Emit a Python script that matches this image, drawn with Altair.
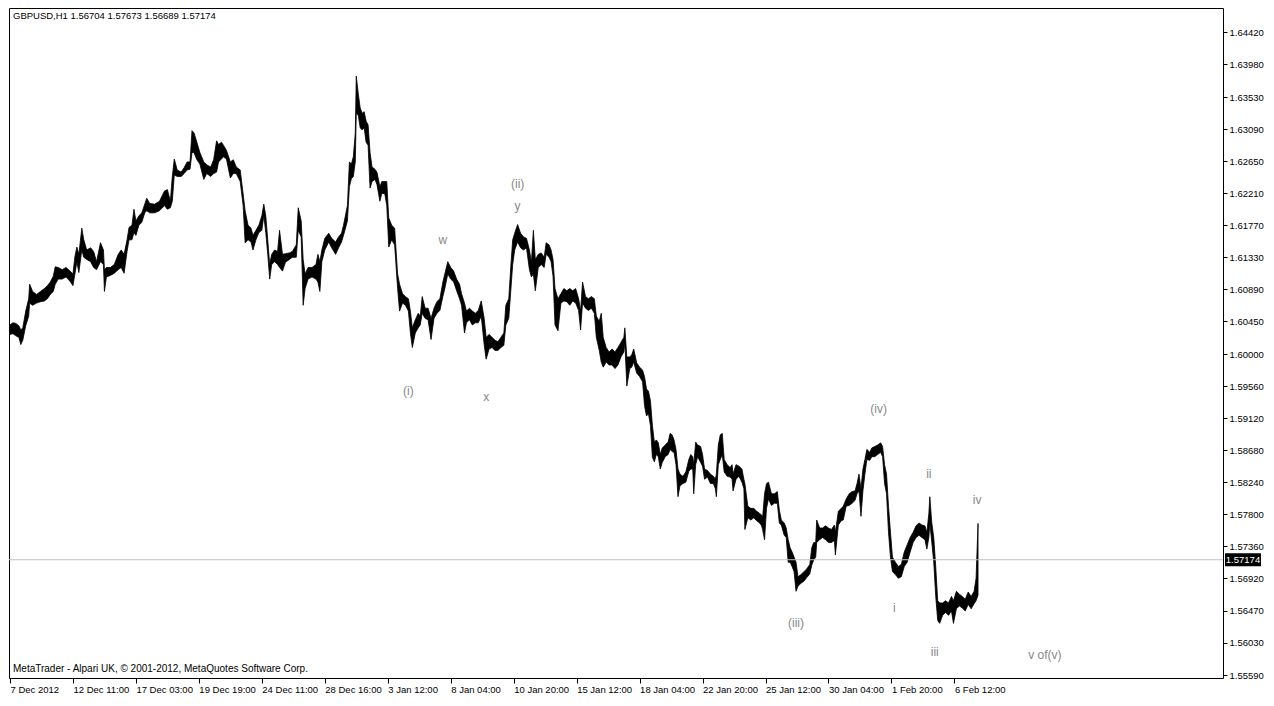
import altair as alt
import pandas as pd

# ---- hourly bars (bar number, high, low) ----
bar_idx = [
    0, 3, 6, 9, 11, 13, 16, 19, 20, 23,
    27, 31, 35, 38, 41, 44, 46, 49, 53, 57,
    61, 64, 66, 68, 70, 73, 75, 78, 82, 85,
    88, 92, 95, 96, 98, 102, 106, 110, 113, 116,
    119, 121, 124, 126, 128, 131, 134, 137, 139, 142,
    147, 152, 157, 160, 163, 165, 167, 170, 174, 177,
    180, 183, 185, 187, 190, 193, 197, 200, 204, 207,
    210, 212, 215, 217, 220, 224, 227, 230, 234, 237,
    239, 242, 245, 247, 250, 253, 256, 258, 260, 262,
    264, 266, 269, 272, 274, 277, 280, 284, 287, 291,
    293, 296, 298, 300, 303, 307, 311, 313, 315, 317,
    320, 324, 327, 331, 334, 337, 339, 343, 345, 347,
    349, 351, 352, 354, 356, 358, 360, 362, 364, 366,
    368, 371, 373, 376, 378, 381, 383, 385, 388, 391,
    394, 396, 399, 402, 405, 407, 409, 412, 415, 417,
    419, 422, 425, 428, 431, 434, 437, 440, 442, 445,
    448, 451, 454, 457, 459, 462, 464, 467, 470, 473,
    476, 479, 482, 484, 487, 490, 493, 496, 499, 502,
    504, 507, 509, 511, 513, 516, 519, 522, 525, 528,
    530, 532, 534, 537, 540, 543, 545, 548, 550, 552,
    554, 557, 560, 563, 566, 569, 572, 575, 578, 580,
    582, 585, 588, 591, 594, 596, 599, 601, 603, 606,
    609, 612, 615, 618, 621, 624, 625, 627, 630, 632,
    634, 637, 640, 643, 645, 647, 649, 651, 653, 655,
    657, 659, 661, 663, 666, 669, 671, 673, 675, 677,
    679, 681, 684, 687, 690, 692, 694, 695, 697, 699,
    702, 704, 706, 709, 712, 715, 717, 718, 720, 722,
    724, 726, 729, 732, 734, 735, 738, 741, 744, 746,
    747, 750, 753, 756, 759, 762, 764, 765, 767, 769,
    771, 774, 777, 780, 782, 784, 787, 789, 791, 793,
    795, 797, 799, 801, 804, 807, 810, 813, 815, 817,
    819, 820, 823, 826, 829, 832, 835, 838, 839, 842,
    845, 847, 850, 853, 856, 859, 861, 863, 865, 867,
    869, 871, 874, 876, 879, 882, 885, 887, 889, 891,
    893, 895, 897, 900, 903, 906, 909, 912, 915, 918,
    921, 924, 927, 930, 932, 934, 935, 937, 939, 941,
    943, 945, 948, 951, 954, 957, 959, 962, 965, 968,
    971, 974, 977, 980, 982, 984,
]

bar_high = [
    1.6040, 1.6043, 1.6042, 1.6039, 1.6033, 1.6036, 1.6059, 1.6076, 1.6096, 1.6086,
    1.6082, 1.6086, 1.6090, 1.6094, 1.6099, 1.6107, 1.6120, 1.6119, 1.6116, 1.6119,
    1.6114, 1.6110, 1.6134, 1.6147, 1.6137, 1.6173, 1.6157, 1.6143, 1.6146, 1.6141,
    1.6127, 1.6153, 1.6143, 1.6116, 1.6119, 1.6119, 1.6123, 1.6137, 1.6143, 1.6137,
    1.6157, 1.6174, 1.6177, 1.6199, 1.6183, 1.6190, 1.6194, 1.6206, 1.6214, 1.6207,
    1.6206, 1.6210, 1.6224, 1.6226, 1.6210, 1.6244, 1.6268, 1.6253, 1.6250, 1.6256,
    1.6264, 1.6264, 1.6307, 1.6304, 1.6291, 1.6277, 1.6264, 1.6260, 1.6257, 1.6267,
    1.6293, 1.6288, 1.6291, 1.6287, 1.6280, 1.6264, 1.6267, 1.6257, 1.6253, 1.6220,
    1.6197, 1.6177, 1.6173, 1.6163, 1.6170, 1.6177, 1.6190, 1.6206, 1.6190, 1.6157,
    1.6123, 1.6137, 1.6143, 1.6141, 1.6170, 1.6137, 1.6138, 1.6139, 1.6141, 1.6150,
    1.6201, 1.6183, 1.6130, 1.6110, 1.6119, 1.6119, 1.6123, 1.6137, 1.6127, 1.6143,
    1.6159, 1.6166, 1.6159, 1.6154, 1.6161, 1.6166, 1.6177, 1.6204, 1.6264, 1.6261,
    1.6271, 1.6304, 1.6382, 1.6358, 1.6338, 1.6331, 1.6333, 1.6320, 1.6315, 1.6277,
    1.6257, 1.6254, 1.6250, 1.6230, 1.6237, 1.6237, 1.6237, 1.6187, 1.6177, 1.6173,
    1.6110, 1.6096, 1.6083, 1.6079, 1.6076, 1.6059, 1.6036, 1.6047, 1.6056, 1.6052,
    1.6079, 1.6063, 1.6063, 1.6049, 1.6063, 1.6072, 1.6076, 1.6099, 1.6110, 1.6127,
    1.6119, 1.6114, 1.6103, 1.6096, 1.6083, 1.6070, 1.6059, 1.6063, 1.6059, 1.6056,
    1.6060, 1.6073, 1.6049, 1.6023, 1.6027, 1.6023, 1.6019, 1.6017, 1.6023, 1.6029,
    1.6067, 1.6076, 1.6119, 1.6157, 1.6166, 1.6178, 1.6166, 1.6161, 1.6159, 1.6143,
    1.6126, 1.6170, 1.6130, 1.6137, 1.6139, 1.6133, 1.6153, 1.6150, 1.6143, 1.6130,
    1.6090, 1.6076, 1.6083, 1.6090, 1.6087, 1.6090, 1.6087, 1.6090, 1.6076, 1.6059,
    1.6099, 1.6079, 1.6076, 1.6079, 1.6076, 1.6052, 1.6045, 1.6056, 1.6023, 1.6009,
    1.6003, 1.6007, 1.6003, 1.6009, 1.6016, 1.6023, 1.6036, 1.5996, 1.5996, 1.5999,
    1.6007, 1.5988, 1.5982, 1.5978, 1.5969, 1.5952, 1.5949, 1.5936, 1.5902, 1.5879,
    1.5882, 1.5878, 1.5862, 1.5871, 1.5875, 1.5879, 1.5891, 1.5889, 1.5882, 1.5869,
    1.5842, 1.5835, 1.5832, 1.5838, 1.5855, 1.5862, 1.5859, 1.5848, 1.5879, 1.5875,
    1.5873, 1.5862, 1.5842, 1.5840, 1.5835, 1.5832, 1.5828, 1.5835, 1.5875, 1.5889,
    1.5891, 1.5855, 1.5848, 1.5844, 1.5848, 1.5835, 1.5848, 1.5846, 1.5842, 1.5828,
    1.5822, 1.5791, 1.5788, 1.5788, 1.5784, 1.5781, 1.5779, 1.5775, 1.5808, 1.5822,
    1.5824, 1.5808, 1.5808, 1.5811, 1.5786, 1.5772, 1.5768, 1.5761, 1.5745, 1.5734,
    1.5728, 1.5721, 1.5714, 1.5694, 1.5697, 1.5701, 1.5705, 1.5711, 1.5734, 1.5741,
    1.5741, 1.5772, 1.5761, 1.5761, 1.5764, 1.5761, 1.5759, 1.5765, 1.5755, 1.5784,
    1.5788, 1.5791, 1.5801, 1.5808, 1.5811, 1.5812, 1.5822, 1.5835, 1.5815, 1.5842,
    1.5855, 1.5869, 1.5865, 1.5871, 1.5873, 1.5875, 1.5878, 1.5873, 1.5848, 1.5835,
    1.5791, 1.5755, 1.5721, 1.5714, 1.5708, 1.5711, 1.5728, 1.5738, 1.5748, 1.5755,
    1.5764, 1.5768, 1.5765, 1.5764, 1.5755, 1.5781, 1.5804, 1.5768, 1.5748, 1.5708,
    1.5661, 1.5658, 1.5658, 1.5661, 1.5658, 1.5667, 1.5661, 1.5674, 1.5670, 1.5667,
    1.5663, 1.5673, 1.5667, 1.5674, 1.5692, 1.57673,
]

bar_low = [
    1.6027, 1.6028, 1.6025, 1.6023, 1.6013, 1.6019, 1.6039, 1.6052, 1.6070, 1.6067,
    1.6070, 1.6072, 1.6073, 1.6076, 1.6082, 1.6086, 1.6096, 1.6103, 1.6103, 1.6106,
    1.6100, 1.6094, 1.6110, 1.6127, 1.6112, 1.6143, 1.6133, 1.6130, 1.6127, 1.6119,
    1.6116, 1.6127, 1.6123, 1.6086, 1.6106, 1.6108, 1.6111, 1.6116, 1.6119, 1.6111,
    1.6141, 1.6157, 1.6157, 1.6167, 1.6163, 1.6177, 1.6181, 1.6194, 1.6197, 1.6194,
    1.6194, 1.6197, 1.6204, 1.6199, 1.6201, 1.6210, 1.6246, 1.6244, 1.6244, 1.6248,
    1.6253, 1.6254, 1.6277, 1.6277, 1.6267, 1.6261, 1.6240, 1.6248, 1.6244, 1.6248,
    1.6250, 1.6264, 1.6268, 1.6271, 1.6268, 1.6242, 1.6248, 1.6248, 1.6237, 1.6204,
    1.6153, 1.6157, 1.6154, 1.6143, 1.6157, 1.6167, 1.6170, 1.6190, 1.6167, 1.6137,
    1.6103, 1.6123, 1.6127, 1.6123, 1.6119, 1.6114, 1.6126, 1.6130, 1.6133, 1.6133,
    1.6170, 1.6161, 1.6067, 1.6090, 1.6103, 1.6106, 1.6103, 1.6099, 1.6086, 1.6127,
    1.6143, 1.6154, 1.6146, 1.6137, 1.6146, 1.6154, 1.6163, 1.6183, 1.6230, 1.6241,
    1.6244, 1.6264, 1.6331, 1.6328, 1.6311, 1.6308, 1.6311, 1.6291, 1.6287, 1.6228,
    1.6237, 1.6240, 1.6233, 1.6210, 1.6221, 1.6220, 1.6204, 1.6147, 1.6157, 1.6150,
    1.6090, 1.6059, 1.6070, 1.6067, 1.6059, 1.6029, 1.6009, 1.6029, 1.6036, 1.6040,
    1.6056, 1.6049, 1.6047, 1.6020, 1.6049, 1.6056, 1.6060, 1.6079, 1.6090, 1.6110,
    1.6103, 1.6099, 1.6087, 1.6076, 1.6067, 1.6029, 1.6043, 1.6047, 1.6040, 1.6043,
    1.6043, 1.6052, 1.6013, 1.5993, 1.6007, 1.6009, 1.6005, 1.6005, 1.6009, 1.6012,
    1.6040, 1.6049, 1.6086, 1.6123, 1.6143, 1.6154, 1.6146, 1.6143, 1.6146, 1.6116,
    1.6106, 1.6110, 1.6087, 1.6119, 1.6123, 1.6119, 1.6137, 1.6133, 1.6127, 1.6107,
    1.6040, 1.6032, 1.6070, 1.6073, 1.6072, 1.6067, 1.6073, 1.6070, 1.6060, 1.6033,
    1.6070, 1.6063, 1.6060, 1.6063, 1.6056, 1.6023, 1.6005, 1.5989, 1.5982, 1.5989,
    1.5985, 1.5985, 1.5980, 1.5985, 1.5996, 1.6003, 1.6016, 1.5956, 1.5980, 1.5982,
    1.5989, 1.5974, 1.5969, 1.5962, 1.5929, 1.5915, 1.5918, 1.5902, 1.5858, 1.5852,
    1.5862, 1.5859, 1.5842, 1.5851, 1.5859, 1.5862, 1.5869, 1.5866, 1.5865, 1.5848,
    1.5804, 1.5819, 1.5822, 1.5824, 1.5839, 1.5842, 1.5842, 1.5808, 1.5848, 1.5859,
    1.5851, 1.5846, 1.5828, 1.5831, 1.5822, 1.5822, 1.5815, 1.5804, 1.5848, 1.5855,
    1.5862, 1.5838, 1.5832, 1.5831, 1.5828, 1.5812, 1.5828, 1.5832, 1.5824, 1.5815,
    1.5759, 1.5775, 1.5772, 1.5775, 1.5771, 1.5768, 1.5764, 1.5759, 1.5745, 1.5788,
    1.5801, 1.5792, 1.5795, 1.5795, 1.5768, 1.5765, 1.5751, 1.5748, 1.5714, 1.5714,
    1.5708, 1.5701, 1.5674, 1.5681, 1.5685, 1.5688, 1.5693, 1.5698, 1.5710, 1.5717,
    1.5721, 1.5741, 1.5745, 1.5748, 1.5745, 1.5741, 1.5741, 1.5744, 1.5724, 1.5765,
    1.5771, 1.5772, 1.5791, 1.5792, 1.5795, 1.5799, 1.5808, 1.5812, 1.5777, 1.5812,
    1.5835, 1.5855, 1.5854, 1.5859, 1.5859, 1.5862, 1.5865, 1.5859, 1.5822, 1.5808,
    1.5755, 1.5721, 1.5701, 1.5697, 1.5692, 1.5694, 1.5708, 1.5714, 1.5728, 1.5741,
    1.5748, 1.5751, 1.5748, 1.5745, 1.5732, 1.5748, 1.5768, 1.5741, 1.5714, 1.5667,
    1.5634, 1.5630, 1.5641, 1.5645, 1.5641, 1.5647, 1.5630, 1.5650, 1.5654, 1.5651,
    1.5647, 1.5656, 1.5650, 1.5657, 1.5661, 1.56689,
]

assert len(bar_idx) == len(bar_high) == len(bar_low), (len(bar_idx), len(bar_high), len(bar_low))

# ---- axis labels ----
time_ticks = [0, 64, 128, 192, 256, 320, 384, 448, 512, 576, 640, 704, 768, 832, 896, 960]
time_labels = ["7 Dec 2012", "12 Dec 11:00", "17 Dec 03:00", "19 Dec 19:00", "24 Dec 11:00",
               "28 Dec 16:00", "3 Jan 12:00", "8 Jan 04:00", "10 Jan 20:00", "15 Jan 12:00",
               "18 Jan 04:00", "22 Jan 20:00", "25 Jan 12:00", "30 Jan 04:00", "1 Feb 20:00",
               "6 Feb 12:00"]
price_ticks = [1.64420, 1.63980, 1.63530, 1.63090, 1.62650, 1.62210, 1.61770, 1.61330,
               1.60890, 1.60450, 1.60000, 1.59560, 1.59120, 1.58680, 1.58240, 1.57800,
               1.57360, 1.56920, 1.56470, 1.56030, 1.55590]

# ---- wave annotations ----
wave_text = ["(i)", "w", "x", "(ii)", "y", "(iii)", "(iv)", "i", "ii", "iii", "iv", "v of(v)"]
wave_idx = [405, 440, 484, 516, 516, 799, 883, 899, 934, 940, 983, 1052]
wave_price = [1.5949, 1.6157, 1.5941, 1.6233, 1.6204, 1.5631, 1.5924, 1.5651, 1.5835, 1.5590, 1.5800, 1.5586]

current_price = [1.57174]
header_text = ["GBPUSD,H1  1.56704 1.57673 1.56689 1.57174"]
footer_text = ["MetaTrader - Alpari UK, \u00a9 2001-2012, MetaQuotes Software Corp."]

W, H = 1214, 670
FONT = "Liberation Sans"

bars = pd.DataFrame({"idx": bar_idx, "high": bar_high, "low": bar_low})
waves = pd.DataFrame({"idx": wave_idx, "low": wave_price, "t": wave_text})
cur = pd.DataFrame({"low": current_price, "t": [f"{v:.5f}" for v in current_price]})

x_scale = alt.Scale(domain=[-1, 1233], nice=False, zero=False)
y_scale = alt.Scale(domain=[1.55549, 1.64755], nice=False, zero=False)

label_expr = "[" + ",".join(f"'{s}'" for s in time_labels) + "][round(datum.value / 64)]"

x_axis = alt.Axis(values=time_ticks, labelExpr=label_expr, title=None, orient="bottom",
                  labelAlign="left", labelBaseline="top", labelFlush=False, labelOverlap=False,
                  tickSize=5, labelPadding=1)
y_axis = alt.Axis(values=price_ticks, format=".5f", title=None, orient="right",
                  labelFlush=False, labelOverlap=False, tickSize=4, labelPadding=2)

x_enc = alt.X("idx:Q", scale=x_scale, axis=x_axis, title=None)
y_enc = alt.Y("low:Q", scale=y_scale, axis=y_axis, title=None)

price_area = alt.Chart(bars).mark_area(
    color="black", stroke="black", strokeWidth=0.8, interpolate="linear"
).encode(x=x_enc, y=y_enc, y2="high:Q")

price_line = alt.Chart(cur).mark_rule(color="#c0c0c0", strokeWidth=1).encode(y=y_enc)

box_path = "M-1,-0.36L1,-0.36L1,0.36L-1,0.36Z"
price_box = alt.Chart(cur).mark_point(
    shape=box_path, filled=True, color="black", opacity=1, size=1296, strokeWidth=0
).encode(x=alt.value(W + 20), y=y_enc)

price_box_text = alt.Chart(cur).mark_text(
    color="white", font=FONT, fontSize=9.5, align="center", baseline="middle"
).encode(x=alt.value(W + 20), y=y_enc, text="t:N")

wave_labels = alt.Chart(waves).mark_text(
    color="#888888", font=FONT, fontSize=12, align="center", baseline="middle"
).encode(x=x_enc, y=y_enc, text="t:N")

header = alt.Chart(pd.DataFrame({"t": header_text})).mark_text(
    color="black", font=FONT, fontSize=9.5, align="left", baseline="middle"
).encode(x=alt.value(4), y=alt.value(8), text="t:N")

footer = alt.Chart(pd.DataFrame({"t": footer_text})).mark_text(
    color="black", font=FONT, fontSize=10, align="left", baseline="middle"
).encode(x=alt.value(4), y=alt.value(H - 9), text="t:N")

chart = alt.layer(
    price_area, price_line, wave_labels, price_box, price_box_text, header, footer
).properties(
    width=W, height=H, padding=0, background="white"
).configure_view(
    stroke="black", strokeWidth=1
).configure_axis(
    labelFont=FONT, labelFontSize=9.5, labelColor="black", tickColor="black",
    domain=False, grid=False
)

chart.save("out.html", embed_options={"renderer": "svg", "actions": False})
